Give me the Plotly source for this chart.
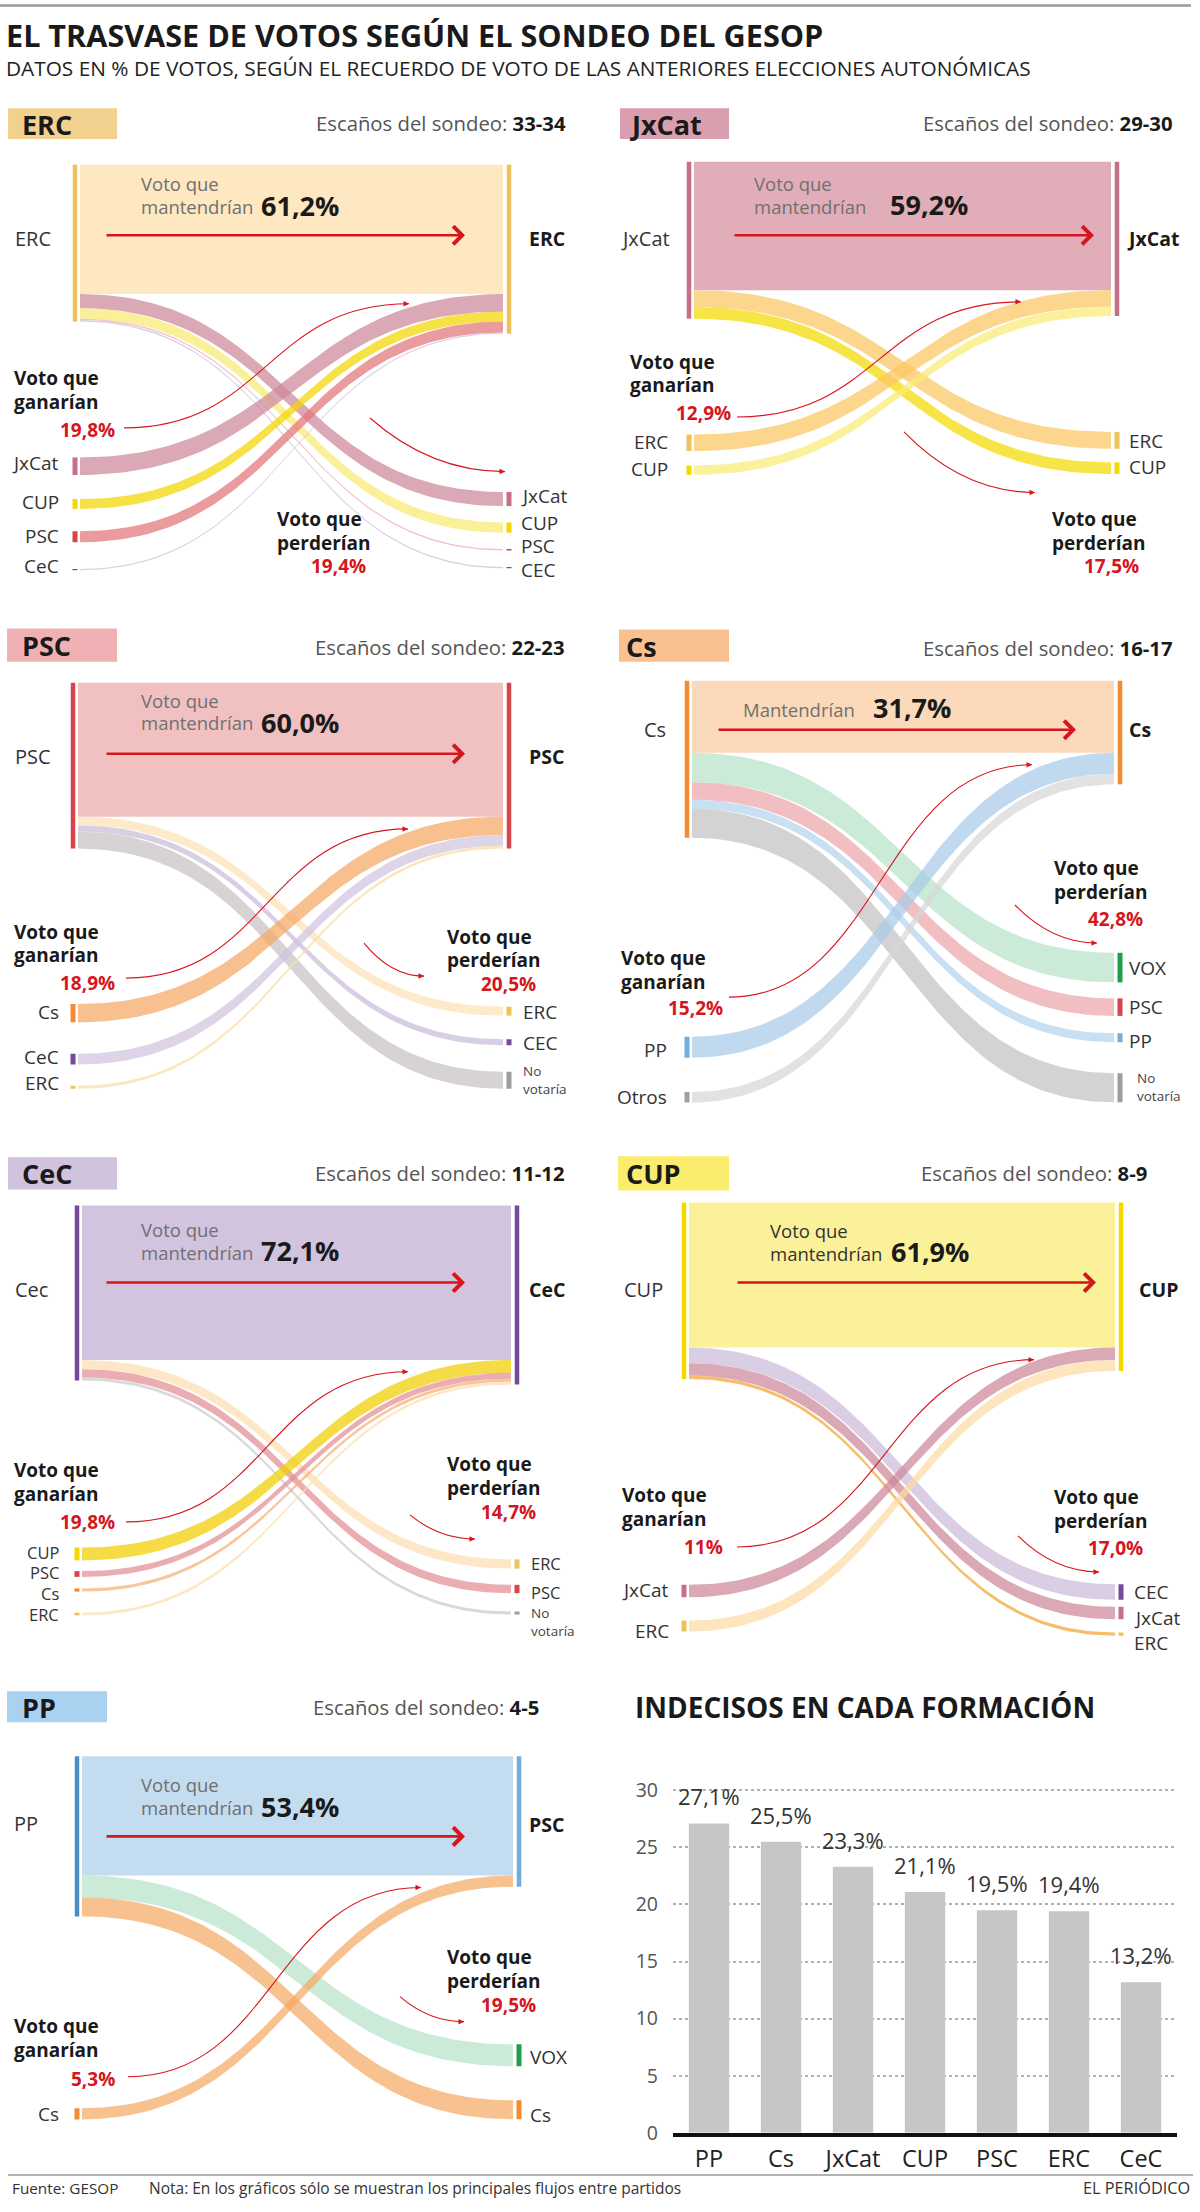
import numpy as np
import plotly.graph_objects as go

W, H = 1200, 2212
FONT = "Open Sans, Noto Sans, DejaVu Sans, sans-serif"
RED = "#d5161d"

# ============================ DATA ============================
PANEL_PARTY = ["ERC", "JxCat", "PSC", "Cs", "CeC", "CUP", "PP"]
PANEL_LEFT = ["ERC", "JxCat", "PSC", "Cs", "Cec", "CUP", "PP"]      # left node label as printed
PANEL_RIGHT = ["ERC", "JxCat", "PSC", "Cs", "CeC", "CUP", "PSC"]    # right node label as printed
SEATS = ["33-34", "29-30", "22-23", "16-17", "11-12", "8-9", "4-5"]
KEEP = [61.2, 59.2, 60.0, 31.7, 72.1, 61.9, 53.4]
GAIN_TOTAL = [19.8, 12.9, 18.9, 15.2, 19.8, 11, 5.3]
LOSS_TOTAL = [19.4, 17.5, 20.5, 42.8, 14.7, 17.0, 19.5]

LOSS_TO = [
    ["JxCat", "CUP", "PSC", "CEC"],
    ["ERC", "CUP"],
    ["ERC", "CEC", "No votaría"],
    ["VOX", "PSC", "PP", "No votaría"],
    ["ERC", "PSC", "No votaría"],
    ["CEC", "JxCat", "ERC"],
    ["VOX", "Cs"],
]
LOSS_VAL = [
    [6.7, 4.9, 0.7, 0.7],
    [7.8, 5.4],
    [4.0, 2.7, 7.6],
    [13.0, 7.7, 3.9, 12.8],
    [4.3, 3.9, 1.4],
    [6.7, 5.3, 1.4],
    [9.8, 8.5],
]
GAIN_FROM = [
    ["JxCat", "CUP", "PSC", "CeC"],
    ["ERC", "CUP"],
    ["Cs", "CeC", "ERC"],
    ["PP", "Otros"],
    ["CUP", "PSC", "Cs", "ERC"],
    ["JxCat", "ERC"],
    ["Cs"],
]
GAIN_VAL = [
    [8.3, 4.7, 5.2, 0.6],
    [7.6, 4.3],
    [8.2, 4.8, 1.3],
    [9.3, 4.6],
    [6.0, 2.7, 1.5, 1.3],
    [5.3, 4.7],
    [5.0],
]

UND_PARTY = ["PP", "Cs", "JxCat", "CUP", "PSC", "ERC", "CeC"]
UND_VAL = [27.1, 25.5, 23.3, 21.1, 19.5, 19.4, 13.2]

# ============================ STYLE ============================
NODE_COL = {"ERC": "#efc15c", "JxCat": "#c76f86", "PSC": "#d8444b", "Cs": "#f28b32",
            "CeC": "#76489a", "CEC": "#76489a", "CUP": "#f4d900", "PP": "#6fb0e0",
            "VOX": "#1f9e4b", "No votaría": "#9d9d9d", "Otros": "#a0a0a0"}
HEADER_COL = ["#f2d18e", "#da9fae", "#efb1b3", "#f8c18f", "#d1c2dd", "#fbec6e", "#a8d2f0"]
KEEP_COL = ["#fde8c1", "#e0adb9", "#f1c0c1", "#fbd9bb", "#d2c4de", "#fbf19b", "#c4dcef"]
BAR_L_COL = ["#efc15c", "#c76f86", "#d8444b", "#f28b32", "#76489a", "#f4d900", "#4c8dc8"]
BAR_R_COL = ["#efc15c", "#c76f86", "#d8444b", "#f28b32", "#76489a", "#f4d900", "#74acd9"]
KEEP_TXT_COL = ["#707070", "#707070", "#707070", "#707070", "#707070", "#333333", "#707070"]
LOSS_COL = [
    ["#dba9b6", "#fbf09a", "#f5c3c4", "#d9d0e6"],
    ["#fdd68e", "#f7e548"],
    ["#fdeacb", "#d9cfe4", "#d7d3d5"],
    ["#cbead7", "#f1bfc1", "#c8e0f2", "#d5d2d4"],
    ["#fde7c6", "#eaadb1", "#d9d9d9"],
    ["#d9cee3", "#dba9b6", "#f6bd6a"],
    ["#cbead7", "#f7c190"],
]
GAIN_COL = [
    ["#dba9b6", "#f6e246", "#ea9b9e", "#d9d0e6"],
    ["#fdd68e", "#fbf19c"],
    ["#f7c08f", "#ddd4e7", "#fde6bd"],
    ["#c1d9ee", "#e2e2e2"],
    ["#f5dc00", "#eaadb1", "#f8c69c", "#fde7c6"],
    ["#dba9b6", "#fde5bd"],
    ["#f7c190"],
]
NODE_LABEL_SIZE = [19, 19, 19, 19, 16.5, 19, 19]

# ============================ LAYOUT (pixel positions) ============================
PL = [
    dict(xl=80, xr=503, yt=163, s=2.124, yb=590, hdr=(8, 106, 117, 137), hdr_t=(21, 122),
         seats=(567, 121), lab_l=(52, 237), lab_r=(528, 237), keep_t=(140, 182, 205), keep_p=(260, 204),
         arrow=(105, 465, 234), gain_l=(13, 378, 402), gain_p=(116, 430), gain_a=(124, 428, 409, 303),
         loss_l=(276, 520, 544), loss_p=(367, 567), loss_a=(370, 418, 505, 472),
         src_y=[466, 504, 537, 570], src_ly=[463, 503, 537, 567], src_lx=60,
         dst_y=[499, 527.7, 550, 568], dst_ly=[497, 523.5, 547, 570.5], dst_lx=520),
    dict(xl=694, xr=1111, yt=160, s=2.18, yb=590, hdr=(620, 106, 729, 137), hdr_t=(629, 122),
         seats=(1174, 121), lab_l=(671, 237), lab_r=(1126, 237), keep_t=(753, 182, 205), keep_p=(889, 203),
         arrow=(733, 1094, 234), gain_l=(629, 361.5, 385), gain_p=(732, 413), gain_a=(737, 417, 1021, 301),
         loss_l=(1051, 520, 544), loss_p=(1140, 567), loss_a=(904, 432, 1035, 493),
         src_y=[442.5, 470], src_ly=[442, 469], src_lx=669,
         dst_y=[440, 468], dst_ly=[441, 467], dst_lx=1128),
    dict(xl=78, xr=503, yt=683, s=2.23, yb=1110, hdr=(7, 629, 117, 662), hdr_t=(21, 646),
         seats=(566, 647), lab_l=(52, 757), lab_r=(528, 757), keep_t=(140, 700.5, 723), keep_p=(260, 723),
         arrow=(105, 465, 754), gain_l=(13, 931.5, 955), gain_p=(116, 983), gain_a=(126, 978, 408, 829),
         loss_l=(446, 936.5, 960), loss_p=(537, 984), loss_a=(364, 943, 424, 976),
         src_y=[1013, 1059, 1087], src_ly=[1012, 1057, 1083], src_lx=60,
         dst_y=[1011, 1042, 1080], dst_ly=[1012, 1043, 1080], dst_lx=522),
    dict(xl=692, xr=1114, yt=681, s=2.27, yb=1110, hdr=(619, 630, 729, 662), hdr_t=(625, 647),
         seats=(1174, 648), lab_l=(667, 730), lab_r=(1128, 730), keep_t=(742, 710, None), keep_p=(872, 708),
         arrow=(717, 1076, 730), gain_l=(620, 958, 982), gain_p=(724, 1008), gain_a=(729, 997, 1032, 765),
         loss_l=(1053, 868, 892), loss_p=(1144, 919), loss_a=(1015, 905, 1097, 943),
         src_y=[1047, 1097], src_ly=[1050, 1097], src_lx=668,
         dst_y=[967.5, 1007, 1037.5, 1087.5], dst_ly=[968, 1007, 1041, 1087], dst_lx=1128),
    dict(xl=82, xr=511, yt=1205, s=2.14, yb=1640, hdr=(8, 1157, 117, 1189), hdr_t=(21, 1173),
         seats=(566, 1173), lab_l=(49, 1289), lab_r=(528, 1289), keep_t=(140, 1229.5, 1252), keep_p=(260, 1250),
         arrow=(105, 465, 1282), gain_l=(13, 1469.5, 1493), gain_p=(116, 1521), gain_a=(126, 1521, 408, 1371),
         loss_l=(446, 1463.5, 1487), loss_p=(537, 1511), loss_a=(410, 1514, 475, 1538),
         src_y=[1553, 1573, 1589, 1613], src_ly=[1551.5, 1572, 1592.5, 1613], src_lx=60,
         dst_y=[1563, 1588, 1612], dst_ly=[1563, 1591, 1621], dst_lx=530),
    dict(xl=689, xr=1115, yt=1202, s=2.34, yb=1660, hdr=(618, 1156, 729, 1190), hdr_t=(625, 1173),
         seats=(1148, 1173), lab_l=(664, 1289), lab_r=(1138, 1289), keep_t=(769, 1230.5, 1253), keep_p=(890, 1251),
         arrow=(736, 1096, 1282), gain_l=(621, 1494.5, 1518), gain_p=(724, 1546), gain_a=(737, 1546, 1034, 1359),
         loss_l=(1053, 1496.5, 1520), loss_p=(1144, 1547), loss_a=(1018, 1535, 1099, 1571),
         src_y=[1590, 1625], src_ly=[1589, 1630], src_lx=670,
         dst_y=[1591, 1612, 1633], dst_ly=[1591, 1617, 1642], dst_lx=1133),
    dict(xl=82, xr=513, yt=1755, s=2.23, yb=2140, hdr=(7, 1690, 107, 1721), hdr_t=(21, 1706),
         seats=(540, 1706), lab_l=(39, 1822), lab_r=(528, 1823), keep_t=(140, 1783.5, 1806), keep_p=(260, 1805),
         arrow=(105, 465, 1835), gain_l=(13, 2024.5, 2048), gain_p=(116, 2077), gain_a=(128, 2075, 421, 1886),
         loss_l=(446, 1955.5, 1979), loss_p=(537, 2003), loss_a=(400, 1995, 464, 2020),
         src_y=[2112], src_ly=[2112], src_lx=60,
         dst_y=[2053.6, 2108], dst_ly=[2055, 2113], dst_lx=529),
]


# ============================ HELPERS ============================
def PX(x):
    return x / W


def YC(y):
    # small vertical calibration of the page capture (lower rows sit slightly higher otherwise)
    return y + 0.0088 * max(0.0, y - 500)


def PY(y):
    return 1 - YC(y) / H


def fmt(v):
    if isinstance(v, int):
        return f"{v}%"
    return f"{v:.1f}".replace(".", ",") + "%"


def rgba(hexcol, a=0.72):
    h = hexcol.lstrip("#")
    r, g, b = (int(h[i:i + 2], 16) for i in (0, 2, 4))
    cv = lambda c: max(0, min(255, round((c - 255 * (1 - a)) / a)))
    return f"rgba({cv(r)},{cv(g)},{cv(b)},{a})"


T = np.linspace(0, 1, 90)


def link_center(y0, y1):
    x = 1.5 * (1 - T) ** 2 * T + 1.5 * (1 - T) * T ** 2 + T ** 3
    y = y0 * ((1 - T) ** 3 + 3 * (1 - T) ** 2 * T) + y1 * (3 * (1 - T) * T ** 2 + T ** 3)
    return x, y


annotations = []
shapes = []


def text(x, y, s, size, color="#333333", xanchor="left", yanchor="middle", bold=False):
    if bold:
        s = f"<b>{s}</b>"
    annotations.append(dict(x=PX(x), y=PY(y), xref="paper", yref="paper", text=s, showarrow=False,
                            xanchor=xanchor, yanchor=yanchor, align=xanchor if xanchor != "center" else "center",
                            font=dict(family=FONT, size=size, color=color), borderpad=0))


fig = go.Figure()
layout_axes = {}

for k in range(len(PANEL_PARTY)):
    L = PL[k]
    n = k + 1
    xa, ya = f"x{n}", f"y{n}"
    span = L["xr"] - L["xl"]
    pad = 16 / span
    s = L["s"]
    layout_axes[f"xaxis{n}"] = dict(domain=[(L["xl"] - 16) / W, (L["xr"] + 16) / W], range=[-pad, 1 + pad],
                                    visible=False, fixedrange=True)
    layout_axes[f"yaxis{n}"] = dict(domain=[PY(L["yb"]), PY(L["yt"] - 6)],
                                    range=[(L["yb"] - L["yt"]) / s, -6 / s], visible=False, fixedrange=True)
    to_pct = lambda py: (py - L["yt"]) / s
    xbl = -5 / span
    xbr = 1 + 6 / span
    nsz = NODE_LABEL_SIZE[k]

    # keep block
    K = KEEP[k]
    fig.add_trace(go.Scatter(x=[0, 1, 1, 0, 0], y=[0, 0, K, K, 0], fill="toself", fillcolor=KEEP_COL[k],
                             mode="lines", line=dict(width=0), hoverinfo="skip", xaxis=xa, yaxis=ya))

    # losses (left stack -> right bottom nodes)
    cum = K
    for name, v, col, yd in zip(LOSS_TO[k], LOSS_VAL[k], LOSS_COL[k], L["dst_y"]):
        y0c = cum + v / 2
        cum += v
        y1c = to_pct(yd)
        x, yc = link_center(y0c, y1c)
        fig.add_trace(go.Scatter(x=np.concatenate([x, x[::-1]]),
                                 y=np.concatenate([yc - v / 2, (yc + v / 2)[::-1]]),
                                 fill="toself", fillcolor=rgba(col), mode="lines", line=dict(width=0),
                                 hoverinfo="skip", xaxis=xa, yaxis=ya))
        fig.add_trace(go.Scatter(x=[xbr, xbr], y=[y1c - v / 2, y1c + v / 2], mode="lines",
                                 line=dict(width=5, color=NODE_COL[name]), hoverinfo="skip", xaxis=xa, yaxis=ya))
    loss_sum = cum

    # gains (left bottom nodes -> right stack)
    cum = K
    for name, v, col, ys in zip(GAIN_FROM[k], GAIN_VAL[k], GAIN_COL[k], L["src_y"]):
        y1c = cum + v / 2
        cum += v
        y0c = to_pct(ys)
        x, yc = link_center(y0c, y1c)
        fig.add_trace(go.Scatter(x=np.concatenate([x, x[::-1]]),
                                 y=np.concatenate([yc - v / 2, (yc + v / 2)[::-1]]),
                                 fill="toself", fillcolor=rgba(col), mode="lines", line=dict(width=0),
                                 hoverinfo="skip", xaxis=xa, yaxis=ya))
        fig.add_trace(go.Scatter(x=[xbl, xbl], y=[y0c - v / 2, y0c + v / 2], mode="lines",
                                 line=dict(width=5, color=NODE_COL[name]), hoverinfo="skip", xaxis=xa, yaxis=ya))
    gain_sum = cum

    # node bars of the party
    fig.add_trace(go.Scatter(x=[xbl, xbl], y=[0, loss_sum], mode="lines",
                             line=dict(width=4.5, color=BAR_L_COL[k]), hoverinfo="skip", xaxis=xa, yaxis=ya))
    fig.add_trace(go.Scatter(x=[xbr, xbr], y=[0, gain_sum], mode="lines",
                             line=dict(width=4.5, color=BAR_R_COL[k]), hoverinfo="skip", xaxis=xa, yaxis=ya))

    # header box
    x0, y0, x1, y1 = L["hdr"]
    shapes.append(dict(type="rect", xref="paper", yref="paper", x0=PX(x0), x1=PX(x1), y0=PY(y1), y1=PY(y0),
                       fillcolor=HEADER_COL[k], line=dict(width=0), layer="below"))
    text(L["hdr_t"][0], L["hdr_t"][1], PANEL_PARTY[k], 27, "#1a1a1a", bold=True)
    text(L["seats"][0], L["seats"][1],
         f"Escaños del sondeo: <b><span style='color:#1a1a1a'>{SEATS[k]}</span></b>", 20.3, "#555555",
         xanchor="right")

    # node labels
    text(L["lab_l"][0], L["lab_l"][1], PANEL_LEFT[k], 20, "#333333", xanchor="right")
    text(L["lab_r"][0], L["lab_r"][1], PANEL_RIGHT[k], 19.5, "#1a1a1a", bold=True)

    # keep text and arrow
    kx, ky1, ky2 = L["keep_t"]
    if ky2 is None:
        text(kx, ky1, "Mantendrían", 18.5, KEEP_TXT_COL[k])
    else:
        text(kx, ky1, "Voto que", 18.5, KEEP_TXT_COL[k])
        text(kx, ky2, "mantendrían", 18.5, KEEP_TXT_COL[k])
    text(L["keep_p"][0], L["keep_p"][1], fmt(KEEP[k]), 27, "#1a1a1a", bold=True)
    ax0, ax1, ay = L["arrow"]
    annotations.append(dict(x=PX(ax1), y=PY(ay), xref="paper", yref="paper", text="", showarrow=True,
                            ax=-(ax1 - ax0), ay=0, arrowhead=4, arrowsize=1.35, arrowwidth=2.6, arrowcolor=RED))

    # gain / loss captions
    gx, gy1, gy2 = L["gain_l"]
    text(gx, gy1, "Voto que", 19, "#1a1a1a", bold=True)
    text(gx, gy2, "ganarían", 19, "#1a1a1a", bold=True)
    text(L["gain_p"][0], L["gain_p"][1], fmt(GAIN_TOTAL[k]), 19, RED, xanchor="right", bold=True)
    lx, ly1, ly2 = L["loss_l"]
    text(lx, ly1, "Voto que", 19, "#1a1a1a", bold=True)
    text(lx, ly2, "perderían", 19, "#1a1a1a", bold=True)
    text(L["loss_p"][0], L["loss_p"][1], fmt(LOSS_TOTAL[k]), 19, RED, xanchor="right", bold=True)

    # thin red pointer curves
    x0, y0, x1, y1 = L["gain_a"]
    dx = x1 - x0
    path = (f"M {PX(x0)},{PY(y0)} C {PX(x0 + 0.5 * dx)},{PY(y0)} {PX(x1 - 0.5 * dx)},{PY(y1)} {PX(x1)},{PY(y1)}")
    shapes.append(dict(type="path", xref="paper", yref="paper", path=path, line=dict(color=RED, width=1.1)))
    annotations.append(dict(x=PX(x1), y=PY(y1), xref="paper", yref="paper", text="", showarrow=True,
                            ax=-7, ay=0, arrowhead=2, arrowsize=1, arrowwidth=1.1, arrowcolor=RED))
    x0, y0, x1, y1 = L["loss_a"]
    dx = x1 - x0
    path = f"M {PX(x0)},{PY(y0)} Q {PX(x0 + 0.45 * dx)},{PY(y1)} {PX(x1)},{PY(y1)}"
    shapes.append(dict(type="path", xref="paper", yref="paper", path=path, line=dict(color=RED, width=1.1)))
    annotations.append(dict(x=PX(x1), y=PY(y1), xref="paper", yref="paper", text="", showarrow=True,
                            ax=-7, ay=0, arrowhead=2, arrowsize=1, arrowwidth=1.1, arrowcolor=RED))

    # bottom node labels
    for name, ly in zip(GAIN_FROM[k], L["src_ly"]):
        text(L["src_lx"], ly, name, nsz, "#333333", xanchor="right")
    for name, ly in zip(LOSS_TO[k], L["dst_ly"]):
        if name == "No votaría":
            text(L["dst_lx"] + (8 if k == 3 else 0), ly, "No<br>votaría", 13.5, "#444444")
        else:
            text(L["dst_lx"], ly, name, nsz, "#333333")

# ============================ BAR CHART ============================
fig.add_trace(go.Bar(x=UND_PARTY, y=UND_VAL, marker=dict(color="#c6c6c6", line=dict(width=0)),
                     hoverinfo="skip", xaxis="x8", yaxis="y8"))
Y0, PXU = 2131, 11.4
layout_axes["xaxis8"] = dict(domain=[673 / W, 1177 / W], showline=True, linecolor="#111111", linewidth=3.5,
                             ticks="", tickfont=dict(family=FONT, size=23.5, color="#222222"),
                             ticklabelstandoff=2, showgrid=False, fixedrange=True, anchor="y8")
layout_axes["yaxis8"] = dict(domain=[PY(Y0), PY(Y0 - 31 * PXU)], range=[0, 31],
                             tickvals=[0, 5, 10, 15, 20, 25, 30], showgrid=True, griddash="dot",
                             gridcolor="#b0b0b0", gridwidth=1.5, zeroline=False, ticks="",
                             tickfont=dict(family=FONT, size=19.5, color="#555555"), ticklabelstandoff=14,
                             fixedrange=True, anchor="x8")
for p, v in zip(UND_PARTY, UND_VAL):
    annotations.append(dict(x=p, y=v, xref="x8", yref="y8", text=fmt(v), showarrow=False, yanchor="bottom",
                            yshift=10, font=dict(family=FONT, size=22, color="#333333")))
text(634, 1706, "INDECISOS EN CADA FORMACIÓN", 28, "#1a1a1a", bold=True)

# ============================ TITLES / FOOTER ============================
shapes.append(dict(type="line", xref="paper", yref="paper", x0=0, x1=PX(1191), y0=PY(2.5), y1=PY(2.5),
                   line=dict(color="#9a9a9a", width=2.5)))
text(5, 32, "EL TRASVASE DE VOTOS SEGÚN EL SONDEO DEL GESOP", 30.6, "#1a1a1a", bold=True)
text(5, 65, "DATOS EN % DE VOTOS, SEGÚN EL RECUERDO DE VOTO DE LAS ANTERIORES ELECCIONES AUTONÓMICAS", 20.8,
     "#222222")
shapes.append(dict(type="line", xref="paper", yref="paper", x0=PX(8), x1=PX(1193), y0=PY(2173), y1=PY(2173),
                   line=dict(color="#999999", width=1.5)))
text(11, 2186, "Fuente: GESOP", 15.3, "#333333")
text(148, 2186, "Nota: En los gráficos sólo se muestran los principales flujos entre partidos", 15.5, "#333333")
text(1191, 2186, "EL PERIÓDICO", 16.3, "#333333", xanchor="right")

fig.update_layout(width=W, height=H, margin=dict(l=0, r=0, t=0, b=0), paper_bgcolor="white",
                  plot_bgcolor="rgba(0,0,0,0)", showlegend=False, annotations=annotations, shapes=shapes,
                  bargap=0.44, font=dict(family=FONT), **layout_axes)
fig.write_html("out.html", config={"displayModeBar": False},
               post_script="document.body.style.margin='0px';document.body.style.padding='0px';")
